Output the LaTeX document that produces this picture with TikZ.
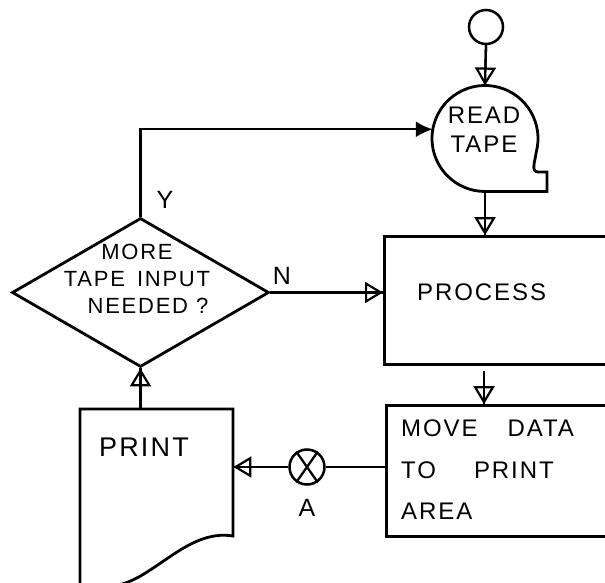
\documentclass[tikz,border=0pt]{standalone}
\usepackage{fontspec}
\setmainfont{Liberation Sans}[LetterSpace=8]
\usetikzlibrary{arrows.meta,shapes.geometric,calc}

\begin{document}
\begin{tikzpicture}[x=1pt,y=1pt,
  outline/.style={draw=black, line width=2.8pt},
  conn/.style={draw=black, line width=2.3pt},
  openhead/.style={postaction={draw, line width=2.3pt, -{Triangle[open,length=18pt,width=21pt,line width=2.2pt]}}},
  fillhead/.style={-{Latex[length=17pt,width=16pt]}},
  txt/.style={inner sep=0pt, font=\fontsize{24}{29}\selectfont},
  bigtxt/.style={inner sep=0pt, font=\fontsize{25}{29}\selectfont},
  ]
\useasboundingbox (0,0) rectangle (605,583);
\clip (0,0) rectangle (605,583);

% ---- shapes ----
\node[circle, draw, line width=2.5pt, minimum size=34pt, inner sep=0pt] (start) at (486,556) {};
\node[circle, minimum size=106pt, inner sep=0pt, outer sep=0pt] (rt) at (485,444.5) {};
\draw[outline] (rt.-15) arc[start angle=-15, end angle=270, radius=53pt]
   -- ++(62,0) -- ++(0,19.5) -- ++(-9,0) to[out=180,in=-95] (rt.-15);

\node[rectangle, outline, minimum width=242pt, minimum height=128pt, inner sep=0pt, anchor=south west] (proc) at (383,217) {};
\node[rectangle, outline, minimum width=240pt, minimum height=131pt, inner sep=0pt, anchor=south west] (move) at (385,45) {};

\node[diamond, outline, minimum width=257pt, minimum height=149pt, inner sep=0pt] (dia) at (140.5,290.5) {};

\node[rectangle, minimum width=153pt, minimum height=127pt, inner sep=0pt, anchor=north west] (print) at (80,174) {};
\draw[outline] (80,-20) -- (80,174) -- (233,174) -- (233,47)
   .. controls (185,55) and (150,-2) .. (110,-3) -- (80,-8);

\node[circle, draw, line width=2.5pt, minimum size=35pt, inner sep=0pt] (A) at (307,116) {};
\draw[line width=2.3pt] (A.55) -- (A.235) (A.125) -- (A.305);

% ---- texts ----
\node[txt, align=center] (t1) at (484,453) {READ\\TAPE};
\node[txt, align=center, font=\fontsize{22}{27}\selectfont] (t2) at (137,304) {MORE\\TAPE\hspace{12pt}INPUT\\\hspace*{22pt}NEEDED\hspace{8pt}?};
\node[txt, anchor=west] (t3) at (417,291) {PROCESS};
\node[txt, anchor=west, align=left, font=\fontsize{24}{41.5}\selectfont] (t4) at (401,113) {MOVE\hspace{30pt}DATA\\TO\hspace{38pt}PRINT\\AREA};
\node[inner sep=0pt, font=\fontsize{27}{30}\selectfont] (t5) at (144,136) {PRINT};
\node[bigtxt] (ly) at (165,383) {Y};
\node[bigtxt] (ln) at (282,307) {N};
\node[bigtxt] (la) at (307,75) {A};

% ---- connectors ----
\draw[conn, openhead] (start.south) -- (rt.north);
\draw[conn, openhead] (rt.south) -- (rt.south |- proc.north);
\draw[conn, openhead, shorten <=5pt] ($(rt.south |- proc.south)+(-1,0)$) -- ($(rt.south |- move.north)+(-1,0)$);
\draw[conn, fillhead] (dia.north) |- (rt.170);
\draw[conn, openhead] (dia.east) -- (dia.east -| proc.west);
\draw[conn, openhead] (dia.south |- print.north) -- (dia.south);
\draw[conn] (A -| move.west) -- (A.east);
\draw[conn, openhead] (A.west) -- (A -| print.east);
\end{tikzpicture}
\end{document}
